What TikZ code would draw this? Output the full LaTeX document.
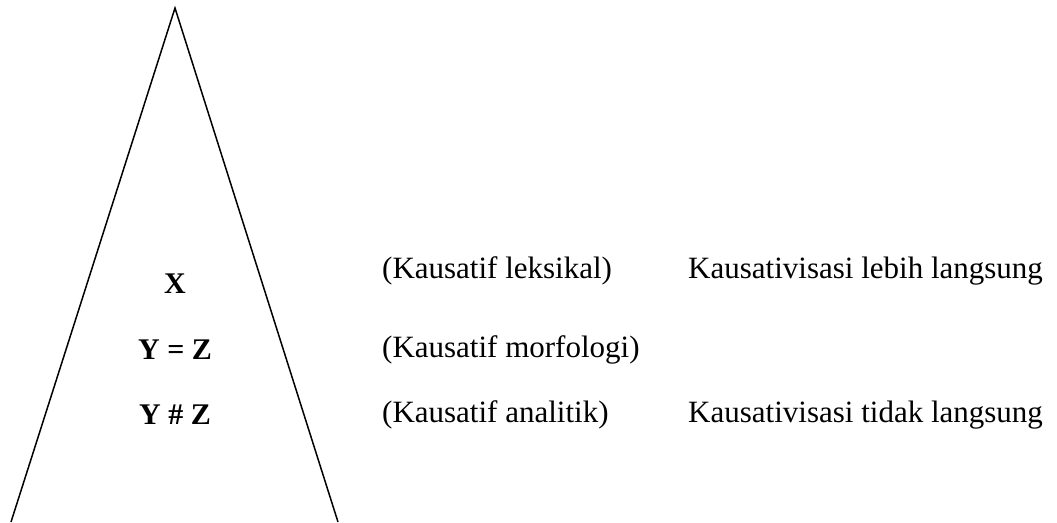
\documentclass[tikz,border=0pt]{standalone}
\usepackage{fontspec}
\setmainfont{Liberation Serif}
\begin{document}
\begin{tikzpicture}[x=1pt,y=-1pt,
  formula/.style={anchor=base,inner sep=0pt,font=\fontsize{30}{35}\selectfont\bfseries},
  label/.style={anchor=base west,inner sep=0pt,font=\fontsize{31}{36}\selectfont}]
  \useasboundingbox (0,0) rectangle (1057,522);
  % open triangle
  \coordinate (apex) at (175,8);
  \coordinate (bl) at (11,522);
  \coordinate (br) at (338,522);
  \draw[line width=1.5pt] (bl) -- (apex) -- (br);
  % formulas inside the triangle
  \node[formula] (x) at (175,293) {X};
  \node[formula] (yz) at (175,359) {Y = Z};
  \node[formula] (ynz) at (175,424) {Y \# Z};
  % labels on the right
  \node[label] (lek) at (382,278) {(Kausatif leksikal)};
  \node[label] (mor) at (382,357) {(Kausatif morfologi)};
  \node[label] (ana) at (382,422) {(Kausatif analitik)};
  \node[label] (leb) at (688,278) {Kausativisasi lebih langsung};
  \node[label] (tid) at (688,422) {Kausativisasi tidak langsung};
\end{tikzpicture}
\end{document}
